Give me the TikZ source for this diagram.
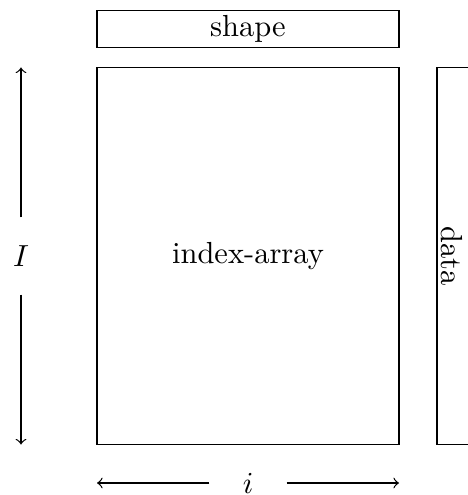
\documentclass[tikz,border=0pt]{standalone}
\begin{document}
\begin{tikzpicture}[x=0.328pt,y=-0.328pt,
  box/.style={draw, line width=0.4pt},
  lbl/.style={inner sep=0pt}]
\useasboundingbox (0,0) rectangle (467,495);
\draw[box] (97,10.5) rectangle (399,47.5);
\node[lbl] (shape) at (248,29) {shape};
\draw[box] (97,67.5) rectangle (399,444.5);
\node[lbl] (idx) at (248,256) {index-array};
\draw[box] (437,67.5) rectangle (470,444.5);
\node[lbl, rotate=-90] (data) at (452,256) {data};
% left dimension
\coordinate (ltop) at (21,67.5);
\coordinate (lbot) at (21,444.5);
\node[lbl, minimum height=76*0.328pt] (I) at (21,256) {$I$};
\draw[->] (I.north) -- (ltop);
\draw[->] (I.south) -- (lbot);
% bottom dimension
\coordinate (bl) at (97,483);
\coordinate (br) at (399,483);
\node[lbl, minimum width=76*0.328pt] (i) at (248,483) {$i$};
\draw[->] (i.west) -- (bl);
\draw[->] (i.east) -- (br);
\end{tikzpicture}
\end{document}
